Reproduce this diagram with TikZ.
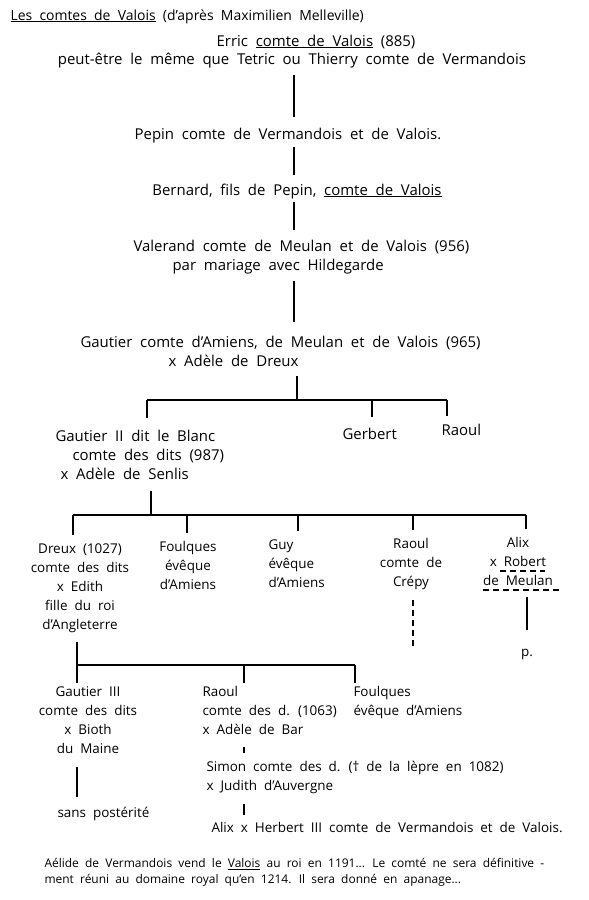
\documentclass[tikz,border=0pt]{standalone}
\usepackage{fontspec}
\setmainfont[WordSpace=2]{Open Sans}
\begin{document}
\begin{tikzpicture}[x=1bp,y=-1bp,line width=1.1bp,
  every node/.style={inner sep=0pt},
  big/.style={font=\fontsize{15}{19}\selectfont,align=left},
  small/.style={font=\fontsize{13.5}{19}\selectfont,align=center},
  dash line/.style={dash pattern=on 6bp off 4bp}]
\useasboundingbox (0,0) rectangle (589,900);
\node[anchor=base west,font=\fontsize{14}{16}\selectfont] (title) at (10,20) {\underline{Les comtes de Valois} (d'après Maximilien Melleville)};
\node[big,anchor=base] (erric) at (316,46) {Erric \underline{comte de Valois} (885)};
\node[big,anchor=base] (note) at (292,64) {peut-être le même que Tetric ou Thierry comte de Vermandois};
\node[big,anchor=base] (pepin) at (288,139) {Pepin comte de Vermandois et de Valois.};
\node[big,anchor=base] (bernard) at (297,195) {Bernard, fils de Pepin, \underline{comte de Valois}};
\node[big,anchor=north west] (valerand) at (133,240) {Valerand comte de Meulan et de Valois (956)\\\hspace*{39bp}par mariage avec Hildegarde};
\node[big,anchor=north west] (gautier) at (80,336) {Gautier comte d'Amiens, de Meulan et de Valois (965)\\\hspace*{88bp}x Adèle de Dreux};
\node[big,anchor=north west] (gautierb) at (55,430) {Gautier II dit le Blanc\\\hspace*{17bp}comte des dits (987)\\\hspace*{5bp}x Adèle de Senlis};
\node[big,anchor=base west] (gerbert) at (342,439) {Gerbert};
\node[big,anchor=base west] (raoul) at (441,435) {Raoul};
\node[small,anchor=north] (dreux) at (80,543) {Dreux (1027)\\comte des dits\\x Edith\\fille du roi\\d'Angleterre};
\node[small,anchor=north] (foulques) at (188,541) {Foulques\\évêque\\d'Amiens};
\node[small,anchor=north west,align=left] (guy) at (268,539) {Guy\\évêque\\d'Amiens};
\node[small,anchor=north] (raoulc) at (411,538) {Raoul\\comte de\\Crépy};
\node[small,anchor=north] (alix) at (518,537) {Alix\\x Robert\\de Meulan};
\node[small,anchor=base] (p) at (527,656) {p.};
\node[small,anchor=north] (gautierc) at (88,686) {Gautier III\\comte des dits\\x Bioth\\du Maine};
\node[small,anchor=base west] (sans) at (57,817) {sans postérité};
\node[small,anchor=north west,align=left] (raoulb) at (202,686) {Raoul\\comte des d. (1063)\\x Adèle de Bar};
\node[small,anchor=north west,align=left] (simon) at (206,761) {Simon comte des d. († de la lèpre en 1082)\\x Judith d'Auvergne};
\node[small,anchor=base west] (alixb) at (211,832) {Alix x Herbert III comte de Vermandois et de Valois.};
\node[small,anchor=north west,align=left] (foulquesb) at (353,686) {Foulques\\évêque d'Amiens};
\node[anchor=north west,align=left,font=\fontsize{12}{16}\selectfont] (fin) at (44,858) {Aélide de Vermandois vend le \underline{Valois} au roi en 1191... Le comté ne sera définitive -\\ment réuni au domaine royal qu'en 1214. Il sera donné en apanage...};
\coordinate (t) at (294,0);
\draw[shorten <=7bp,shorten >=10bp] (note.south -| t) -- (pepin.north -| t);
\draw[shorten <=4bp,shorten >=8bp] (pepin.south -| t) -- (bernard.north -| t);
\draw[shorten <=3bp,shorten >=10bp] (bernard.south -| t) -- (valerand.north -| t);
\draw[shorten <=6bp,shorten >=14bp] (valerand.south -| t) -- (gautier.north -| t);
\coordinate (b1) at (297,400);
\coordinate (b1l) at (147,400);
\coordinate (b1g) at (372,400);
\coordinate (b1r) at (447,400);
\draw[shorten <=8bp] (gautier.south -| b1) -- (b1);
\draw (b1l) -- (b1r);
\draw[shorten >=12bp] (b1l) -- (b1l |- gautierb.north);
\draw[shorten >=10bp] (b1g) -- (b1g |- gerbert.north);
\draw[shorten >=7bp] (b1r) -- (b1r |- raoul.north);
\coordinate (b2) at (151,515);
\draw[shorten <=11bp] (gautierb.south -| b2) -- (b2);
\draw (73,515) -- (526,515);
\foreach \n/\x in {dreux/73,foulques/187,guy/298,raoulc/413,alix/526} {
  \coordinate (d\n) at (\x,515);
  \draw[shorten >=8bp] (d\n) -- (d\n |- \n.north);
}
\draw[dash line] (483,590) -- (560,590);
\draw[dash line] (500,571) -- (545,571);
\coordinate (c) at (413,648);
\draw[dash line,shorten <=10bp] (raoulc.south -| c) -- (c);
\draw[shorten <=11bp,shorten >=18bp] (alix.south -| p.north) -- (p.north);
\coordinate (b3) at (77,665);
\draw[shorten <=9bp] (dreux.south -| b3) -- (b3);
\draw (b3) -- (355,665);
\foreach \n/\x in {gautierc/77,raoulb/244,foulquesb/355} {
  \coordinate (e\n) at (\x,665);
  \draw[shorten >=3bp] (e\n) -- (e\n |- \n.north);
}
\coordinate (rb) at (244,0);
\draw[shorten <=13bp,shorten >=9bp] (gautierc.south -| b3) -- (sans.north -| b3);
\draw[shorten <=12bp,shorten >=8bp] (raoulb.south -| rb) -- (simon.north -| rb);
\draw[shorten <=9bp,shorten >=6bp] (simon.south -| rb) -- (alixb.north -| rb);
\end{tikzpicture}
\end{document}
